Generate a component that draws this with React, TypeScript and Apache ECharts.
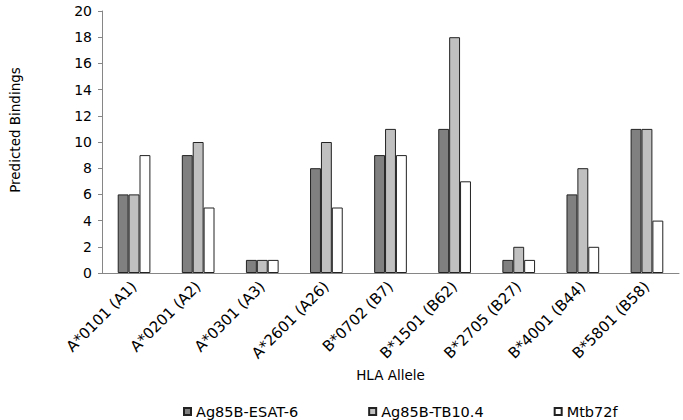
import React, { useEffect, useRef } from "react";
import * as echarts from "echarts";

const categories = ["A*0101 (A1)", "A*0201 (A2)", "A*0301 (A3)", "A*2601 (A26)", "B*0702 (B7)", "B*1501 (B62)", "B*2705 (B27)", "B*4001 (B44)", "B*5801 (B58)"];
const esat6 = [6, 9, 1, 8, 9, 11, 1, 6, 11];
const tb104 = [6, 10, 1, 10, 11, 18, 2, 8, 11];
const mtb72f = [9, 5, 1, 5, 9, 7, 1, 2, 4];
const seriesNames = ["Ag85B-ESAT-6", "Ag85B-TB10.4", "Mtb72f"];
const colors = ["#808080", "#c0c0c0", "#ffffff"];

const font = "DejaVu Sans";

export default function App() {
  const ref = useRef<HTMLDivElement>(null);
  useEffect(() => {
    const chart = echarts.init(ref.current!, null, { renderer: "svg" });
    const data = [esat6, tb104, mtb72f];
    chart.setOption({
      animation: false,
      textStyle: { fontFamily: font },
      grid: { left: 99, right: 4, top: 11, bottom: 147, containLabel: false },
      xAxis: {
        type: "category",
        data: categories,
        name: "HLA Allele",
        nameLocation: "middle",
        nameGap: 89,
        nameTextStyle: { fontFamily: font, fontSize: 13.5, color: "#000" },
        axisLine: { lineStyle: { color: "#868686" } },
        axisTick: { show: false },
        axisLabel: { rotate: 45, fontFamily: font, fontSize: 15, color: "#000", margin: 11, interval: 0 },
      },
      yAxis: {
        type: "value",
        min: 0,
        max: 20,
        interval: 2,
        name: "Predicted Bindings",
        nameLocation: "middle",
        nameGap: 80,
        nameTextStyle: { fontFamily: font, fontSize: 13.5, color: "#000", padding: [0, 0, 0, 24] },
        axisLine: { show: true, lineStyle: { color: "#868686" } },
        axisTick: { show: true, length: 4, lineStyle: { color: "#868686" } },
        splitLine: { show: false },
        axisLabel: { fontFamily: font, fontSize: 14, color: "#000", margin: 10 },
      },
      legend: {
        top: 399,
        left: 178,
        itemWidth: 7,
        itemHeight: 7,
        itemGap: 70,
        icon: "rect",
        textStyle: { fontFamily: font, fontSize: 14.5, color: "#000" },
        data: seriesNames,
      },
      series: seriesNames.map((n, i) => ({
        name: n,
        type: "bar",
        data: data[i],
        barGap: "0%",
        barCategoryGap: "49%",
        itemStyle: { color: colors[i], borderColor: "#222", borderWidth: 1 },
      })),
    });
    return () => chart.dispose();
  }, []);
  return <div ref={ref} style={{ width: 683, height: 420, position: "absolute", left: 0, top: 0, background: "#fff" }} />;
}
